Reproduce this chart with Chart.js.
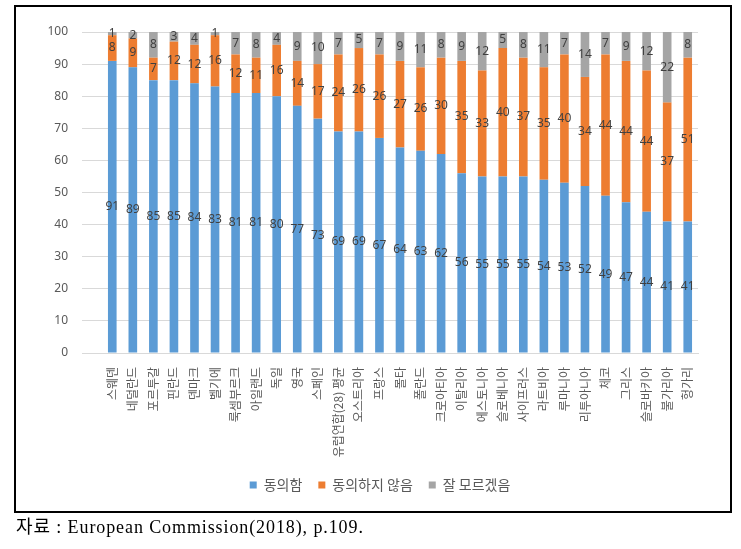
<!DOCTYPE html>
<html>
<head>
<meta charset="utf-8">
<script src="https://cdn.jsdelivr.net/npm/chart.js@4.4.1/dist/chart.umd.min.js"></script>
<style>
  html, body { margin:0; padding:0; background:#fff; }
  #wrap { position:absolute; left:0; top:0; width:741px; height:549px; }
  #frame { position:absolute; left:14px; top:5px; width:714px; height:504px; border:2px solid #000; pointer-events:none; }
  #src { position:absolute; left:16px; top:512px; font-family:"Liberation Serif","Noto Sans CJK KR",serif; font-size:18px; letter-spacing:0.9px; color:#000; white-space:nowrap; }
</style>
</head>
<body>
<div id="wrap"><canvas id="c" width="741" height="549"></canvas></div>
<div id="frame"></div>
<div id="src">자료 : European Commission(2018), p.109.</div>
<script>
const categories = ["스웨덴","네덜란드","포르투갈","핀란드","덴마크","벨기에","룩셈부르크","아일랜드","독일","영국","스페인","유럽연합(28) 평균","오스트리아","프랑스","몰타","폴란드","크로아티아","이탈리아","에스토니아","슬로베니아","사이프러스","라트비아","루마니아","리투아니아","체코","그리스","슬로바키아","불가리아","헝가리"];
const agree    = [91,89,85,85,84,83,81,81,80,77,73,69,69,67,64,63,62,56,55,55,55,54,53,52,49,47,44,41,41];
const disagree = [8,9,7,12,12,16,12,11,16,14,17,24,26,26,27,26,30,35,33,40,37,35,40,34,44,44,44,37,51];
const dontKnow = [1,2,8,3,4,1,7,8,4,9,10,7,5,7,9,11,8,9,12,5,8,11,7,14,7,9,12,22,8];
const seriesNames = ["동의함","동의하지 않음","잘 모르겠음"];
const yTicks = [0,10,20,30,40,50,60,70,80,90,100];

const labelPlugin = {
  id: 'segLabels',
  afterLayout(chart) {
    if (chart.legend) { chart.legend.left += 31; chart.legend.right += 31; }
  },
  afterDatasetsDraw(chart) {
    const ctx = chart.ctx;
    ctx.save();
    ctx.font = '12px "Noto Sans", sans-serif';
    ctx.fillStyle = '#404040';
    ctx.textAlign = 'center';
    ctx.textBaseline = 'middle';
    chart.data.datasets.forEach((ds, di) => {
      const meta = chart.getDatasetMeta(di);
      meta.data.forEach((el, i) => {
        const v = ds.data[i];
        const cy = (el.y + el.base) / 2;
        ctx.fillText(String(v), el.x, cy);
      });
    });
    ctx.restore();
  }
};

new Chart(document.getElementById('c'), {
  type: 'bar',
  data: {
    labels: categories,
    datasets: [
      { label: seriesNames[0], data: agree, backgroundColor: '#5B9BD5' },
      { label: seriesNames[1], data: disagree, backgroundColor: '#ED7D31' },
      { label: seriesNames[2], data: dontKnow, backgroundColor: '#A5A5A5' }
    ]
  },
  options: {
    responsive: false,
    animation: false,
    devicePixelRatio: 1,
    layout: { padding: { left: 0, right: 43, top: 32, bottom: 47 } },
    datasets: { bar: { barPercentage: 0.42, categoryPercentage: 1.0 } },
    plugins: {
      legend: {
        position: 'bottom',
        labels: {
          boxWidth: 7, boxHeight: 7, padding: 16,
          color: '#595959',
          font: { family: '"Noto Sans CJK KR", sans-serif', size: 14 }
        }
      },
      tooltip: { enabled: false }
    },
    scales: {
      x: {
        stacked: true,
        grid: { display: false },
        border: { display: true, color: '#D9D9D9', width: 1 },
        ticks: {
          autoSkip: false, minRotation: 90, maxRotation: 90, padding: 6,
          color: '#595959',
          font: { family: '"Noto Sans CJK KR", sans-serif', size: 12 }
        },
        afterFit(s) { s.height = 109; }
      },
      y: {
        stacked: true,
        min: 0, max: 100,
        afterBuildTicks(s) { s.ticks = yTicks.map(v => ({ value: v })); },
        grid: { color: '#D9D9D9', drawTicks: true, tickLength: 20 },
        border: { display: false },
        ticks: {
          padding: 14, color: '#595959',
          font: { family: '"Noto Sans", sans-serif', size: 12 }
        },
        afterFit(s) { s.width = 102; }
      }
    }
  },
  plugins: [labelPlugin]
});
</script>
</body>
</html>
